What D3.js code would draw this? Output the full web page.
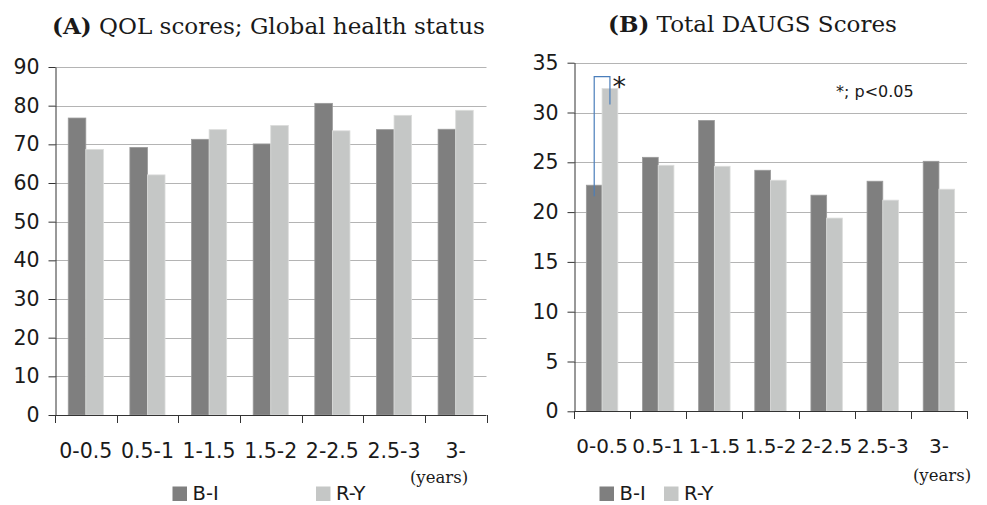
<!DOCTYPE html>
<html>
<head>
<meta charset="utf-8">
<script src="https://cdn.jsdelivr.net/npm/d3@7"></script>
<style>
  html, body { margin: 0; padding: 0; background: #fff; }
  svg { display: block; }
</style>
</head>
<body>
<svg id="chart" width="987" height="505"></svg>
<script>
// Follow-up period groups (years) shared by both panels
const categories = ["0-0.5", "0.5-1", "1-1.5", "1.5-2", "2-2.5", "2.5-3", "3-"];
const seriesNames = ["B-I", "R-Y"];

// (A) QOL scores; Global health status
const qolBI = [76.8, 69.2, 71.3, 70.1, 80.6, 73.8, 73.9];
const qolRY = [68.7, 62.1, 73.8, 74.9, 73.5, 77.5, 78.8];
const qolTicks = [0, 10, 20, 30, 40, 50, 60, 70, 80, 90];

// (B) Total DAUGS scores
const daugsBI = [22.7, 25.5, 29.2, 24.2, 21.7, 23.1, 25.1];
const daugsRY = [32.4, 24.7, 24.6, 23.2, 19.4, 21.2, 22.3];
const daugsTicks = [0, 5, 10, 15, 20, 25, 30, 35];

// Significance bracket for the first group of panel B (value units)
const bracketTop = 33.6;
const bracketLeftEnd = 21.6;
const bracketRightEnd = 30.8;

const colors = { "B-I": "#7f7f7f", "R-Y": "#c5c7c6" };
const edges = { "B-I": "#9a9a9a", "R-Y": "#dcdddc" };

const svg = d3.select("#chart");
const sansFont = "'DejaVu Sans', sans-serif";
const serifFont = "'DejaVu Serif', serif";

function fitTitle(textSel, targetWidth) {
  const w = textSel.node().getComputedTextLength();
  const fs = parseFloat(textSel.attr("font-size"));
  textSel.attr("font-size", fs * targetWidth / w);
}

function drawPanel(opt) {
  const g = svg.append("g");
  const tbl = categories.map((c, i) => ({ cat: c, "B-I": opt.bi[i], "R-Y": opt.ry[i] }));

  const x = d3.scaleBand().domain(categories)
    .range([opt.left, opt.right])
    .paddingInner(opt.pad).paddingOuter(opt.pad / 2);
  const xs = d3.scaleBand().domain(seriesNames).range([0, x.bandwidth()]);
  const y = d3.scaleLinear().domain([0, d3.max(opt.ticks)]).range([opt.bottom, opt.top]);

  // horizontal gridlines
  g.append("g").selectAll("line").data(opt.ticks.filter(t => t > 0)).join("line")
    .attr("x1", opt.left).attr("x2", opt.right)
    .attr("y1", d => Math.round(y(d)) + 0.5).attr("y2", d => Math.round(y(d)) + 0.5)
    .attr("stroke", "#b4b4b4").attr("stroke-width", 1);

  // bars
  g.append("g").selectAll("g").data(tbl).join("g")
    .attr("transform", d => `translate(${x(d.cat)},0)`)
    .selectAll("rect").data(d => seriesNames.map(s => ({ s, v: d[s] }))).join("rect")
    .attr("x", d => xs(d.s)).attr("width", xs.bandwidth())
    .attr("y", d => y(d.v)).attr("height", d => y(0) - y(d.v))
    .attr("fill", d => colors[d.s])
    .attr("stroke", d => edges[d.s]).attr("stroke-width", 0.8);

  // y axis
  const yAxis = d3.axisLeft(y).tickValues(opt.ticks).tickSize(7).tickSizeOuter(0).tickPadding(9);
  const ya = g.append("g").attr("transform", `translate(${Math.round(opt.left) + 0.5},0)`).call(yAxis);
  ya.select(".domain").attr("stroke", "#333");
  ya.selectAll(".tick line").attr("stroke", "#333");
  ya.selectAll("text").attr("font-family", sansFont).attr("font-size", 20.5).attr("fill", "#1a1a1a");

  // x axis: baseline + ticks at category boundaries
  const xa = g.append("g");
  xa.append("line").attr("x1", opt.left).attr("x2", opt.right)
    .attr("y1", Math.round(y(0)) + 0.5).attr("y2", Math.round(y(0)) + 0.5)
    .attr("stroke", "#333");
  const bounds = d3.range(categories.length + 1).map(i => opt.left + i * x.step());
  xa.selectAll("line.bt").data(bounds).join("line").attr("class", "bt")
    .attr("x1", d => Math.round(d) + 0.5).attr("x2", d => Math.round(d) + 0.5)
    .attr("y1", Math.round(y(0))).attr("y2", Math.round(y(0)) + 8)
    .attr("stroke", "#333");
  xa.selectAll("text").data(categories).join("text")
    .attr("x", d => x(d) + x.bandwidth() / 2)
    .attr("y", y(0) + opt.labelOffset)
    .attr("text-anchor", "middle")
    .attr("font-family", sansFont).attr("font-size", opt.labelSize).attr("fill", "#1a1a1a")
    .text(d => d);

  // unit label
  g.append("text").attr("x", opt.yearsX).attr("y", opt.yearsY)
    .attr("text-anchor", "middle").attr("font-family", serifFont)
    .attr("font-size", 16.5).attr("fill", "#1a1a1a").text("(years)");

  // title
  const t = g.append("text").attr("x", opt.titleX).attr("y", opt.titleY)
    .attr("font-family", serifFont).attr("font-size", 20).attr("fill", "#1a1a1a");
  t.append("tspan").attr("font-weight", "bold").text(opt.titleTag);
  t.append("tspan").text(" " + opt.titleText);
  fitTitle(t, opt.titleWidth);

  // legend
  const lg = g.append("g");
  seriesNames.forEach((s, i) => {
    lg.append("rect").attr("x", opt.legendX[i]).attr("y", 486.5).attr("width", 14.5).attr("height", 14.5)
      .attr("fill", colors[s]);
    lg.append("text").attr("x", opt.legendX[i] + 20).attr("y", 500)
      .attr("font-family", sansFont).attr("font-size", 19.5).attr("fill", "#1a1a1a").text(s);
  });

  return { x, xs, y, g };
}

drawPanel({
  bi: qolBI, ry: qolRY, ticks: qolTicks,
  left: 55, right: 486.5, top: 67, bottom: 415, pad: 0.43, labelOffset: 42.5, labelSize: 20.5,
  yearsX: 439, yearsY: 483,
  titleX: 52, titleY: 33.5, titleTag: "(A)", titleText: "QOL scores; Global health status", titleWidth: 433,
  legendX: [172.5, 316]
});

const pB = drawPanel({
  bi: daugsBI, ry: daugsRY, ticks: daugsTicks,
  left: 574, right: 967, top: 62.7, bottom: 411.3, pad: 0.44, labelOffset: 42, labelSize: 20,
  yearsX: 942, yearsY: 481,
  titleX: 608, titleY: 31.5, titleTag: "(B)", titleText: "Total DAUGS Scores", titleWidth: 289,
  legendX: [599.5, 664]
});

// significance bracket between B-I and R-Y in the first group
{
  const { x, xs, y, g } = pB;
  const c0 = categories[0];
  const xl = x(c0) + xs("B-I") + xs.bandwidth() / 2;
  const xr = x(c0) + xs("R-Y") + xs.bandwidth() / 2;
  const path = d3.path();
  path.moveTo(xl, y(bracketLeftEnd));
  path.lineTo(xl, y(bracketTop));
  path.lineTo(xr, y(bracketTop));
  path.lineTo(xr, y(bracketRightEnd));
  g.append("path").attr("d", path.toString())
    .attr("fill", "none").attr("stroke", "#4a7ebb").attr("stroke-width", 1.2);
  g.append("text").attr("x", xr + 2.5).attr("y", y(bracketTop) + 19)
    .attr("font-family", sansFont).attr("font-size", 27).attr("fill", "#1a1a1a").text("*");
  g.append("text").attr("x", 836).attr("y", 96.5)
    .attr("font-family", sansFont).attr("font-size", 16).attr("fill", "#1a1a1a").text("*; p<0.05");
}
</script>
</body>
</html>
